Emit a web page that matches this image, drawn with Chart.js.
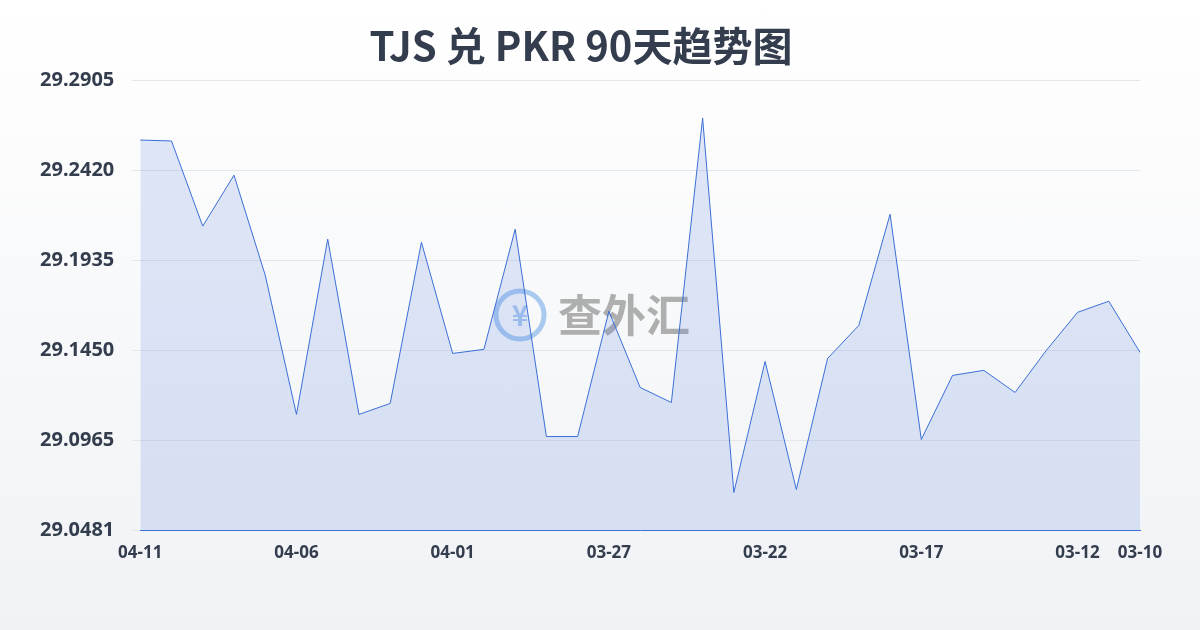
<!DOCTYPE html>
<html><head><meta charset="utf-8">
<script src="https://cdn.jsdelivr.net/npm/chart.js@4/dist/chart.umd.min.js"></script>
<style>html,body{margin:0;padding:0;background:linear-gradient(#ffffff,#f0f2f5);}#w{width:1200px;height:630px;position:relative}</style>
</head><body><div id="w"><canvas id="c"></canvas></div>
<script>
const labels=["04-11","04-10","04-09","04-08","04-07","04-06","04-05","04-04","04-03","04-02","04-01","03-31","03-30","03-29","03-28","03-27","03-26","03-25","03-24","03-23","03-22","03-21","03-20","03-19","03-18","03-17","03-16","03-15","03-14","03-13","03-12","03-11","03-10"];
const values=[29.2582,29.2577,29.2119,29.2393,29.1855,29.1106,29.2049,29.1106,29.1165,29.2032,29.1434,29.1456,29.2102,29.0987,29.0987,29.1661,29.1251,29.1170,29.2700,29.0686,29.1391,29.0702,29.1407,29.1585,29.2183,29.0971,29.1316,29.1343,29.1224,29.1450,29.1655,29.1715,29.1440];
const yTicks=[29.0481,29.0965,29.1450,29.1935,29.2420,29.2905];
const shownIdx=[0,5,10,15,20,25,30,32];
const wm={id:'wm',beforeDatasetsDraw(ch){const c=ch.ctx;c.save();c.globalAlpha=0.45;
c.strokeStyle='#4a90e2';c.lineWidth=5;c.beginPath();c.arc(520,315,24,0,Math.PI*2);c.stroke();
c.fillStyle='#4a90e2';c.font='bold 28px "Noto Sans CJK SC"';c.textAlign='center';c.textBaseline='middle';c.fillText('¥',520,315);
c.fillStyle='#555';c.font='bold 44px "Noto Sans CJK SC"';c.textAlign='left';c.fillText('查外汇',558,315);c.restore();}};
new Chart(document.getElementById('c'),{type:'line',
data:{labels,datasets:[{data:values,borderColor:'#3b6fd6',borderWidth:1,backgroundColor:'rgba(90,130,220,0.18)',fill:'start',pointRadius:0,tension:0}]},
options:{responsive:true,maintainAspectRatio:false,animation:false,
layout:{padding:{left:22,right:60,top:22,bottom:63}},
plugins:{legend:{display:false},tooltip:{enabled:false},
title:{display:true,text:'TJS 兑 PKR 90天趋势图',color:'#333d4d',font:{size:40,weight:'bold',family:'"Noto Sans CJK SC"'},padding:{top:0,bottom:10}}},
scales:{
x:{grid:{display:false},border:{color:'#3b6fd6'},ticks:{autoSkip:false,maxRotation:0,color:'#333d4d',padding:4,font:{size:17,weight:'bold',family:'"Noto Sans"'},
callback:(v,i)=>shownIdx.includes(i)?labels[i]:''}},
y:{min:29.0481,max:29.2905,border:{display:false},grid:{color:'#e3e6ea'},
afterBuildTicks:a=>{a.ticks=yTicks.map(v=>({value:v}))},
ticks:{color:'#333d4d',padding:18,font:{size:20,weight:'bold',family:'"Noto Sans"'},callback:v=>v.toFixed(4)}}}},
plugins:[wm]});
</script></body></html>
